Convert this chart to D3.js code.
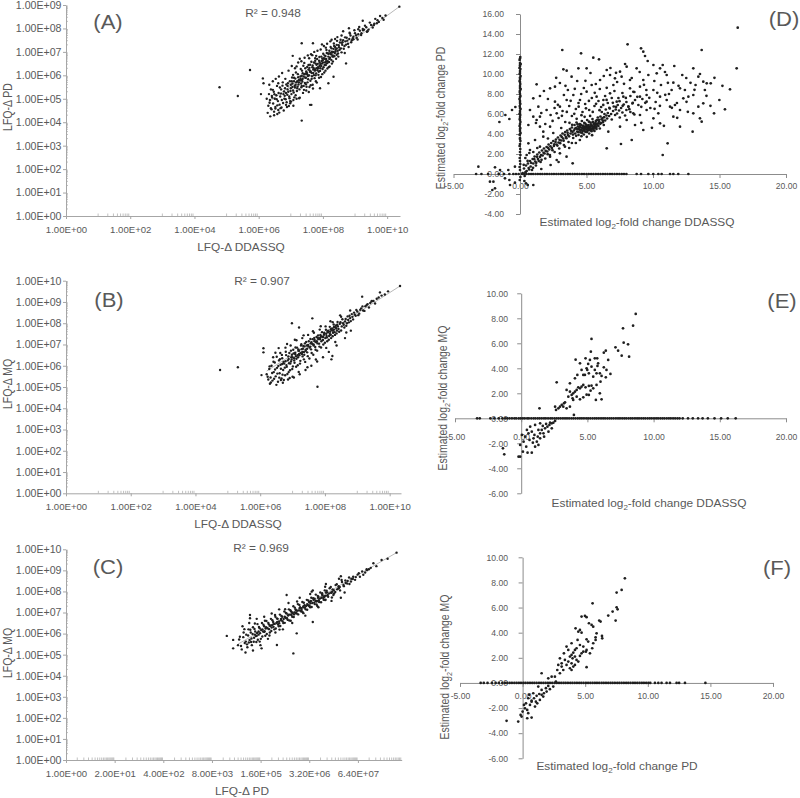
<!DOCTYPE html>
<html><head><meta charset="utf-8">
<script src="https://cdn.jsdelivr.net/npm/d3@7"></script>
<style>body{margin:0;background:#fff}svg{display:block}</style>
</head><body>
<svg id="c" width="800" height="798"></svg>
<script>
// ---------------- DATA ----------------
// Panels A-C: [log10 x, log10 y]
const aPoints = [
[4.78,5.49],[5.35,5.12],[5.73,6.23],[7.34,4.07],[10.38,8.93],[9.78,8.53],[9.24,8.33],[7.34,7.37],[7.69,7.37],[7.06,6.83],[6.13,5.87],[6.15,5.66],[6.07,5.2],[6.48,4.3],[6.38,4.6],[7.6,4.74],[7.64,4.74],[8.83,7.82],[8.59,7.39],
[8.72,6.51],[8.17,5.66],[8.33,5.94],[7.91,5.45],[7.34,5.55],[7.08,4.95],[6.98,4.81],[6.61,4.52],[6.85,4.74],[7.76,6.73],[7.55,6.44],[8.05,6.44],[8.33,6.8],[8.43,7.15],[8.95,7.54],[9.37,7.86],[9.58,8.14],[9.68,8.22],[9.89,8.37],[9.1,7.97],[9.25,7.92],
[6.30,4.70],[6.32,5.20],[6.35,4.95],[6.38,5.40],[6.40,4.55],[6.42,5.05],[6.45,4.80],[6.47,5.30],[6.50,5.00],[6.52,4.65],[6.55,5.15],[6.57,5.55],[6.60,4.90],[6.62,5.25],[6.65,4.75],[6.67,5.10],[6.70,5.40],[6.72,4.95],[6.75,5.70],[6.77,5.20],[6.80,5.00],[6.82,5.45],[6.85,5.25],[6.87,4.85],[6.90,5.55],[6.92,5.30],[6.95,5.10],[6.97,5.75],[7.00,5.45],[7.02,5.20],[7.05,5.65],[7.07,5.35],[7.10,5.90],[7.12,5.55],[7.15,5.15],[7.17,5.70],[7.20,5.45],[7.22,6.05],[7.25,5.80],[7.27,5.40],[7.30,5.95],[7.32,5.65],[7.35,6.20],[7.37,5.85],[7.40,5.55],[7.42,6.05],[7.45,6.30],[7.47,5.90],[7.50,6.10],[7.52,5.70],[7.55,6.25],[7.57,6.00],[7.60,6.45],[7.62,6.15],[7.65,5.85],[7.67,6.35],[7.70,6.10],[7.72,6.55],[7.75,6.25],[7.77,6.00],[7.80,6.45],[7.82,6.70],[7.85,6.35],[7.87,6.15],[7.90,6.55],[7.92,6.30],[7.95,6.80],[7.97,6.50],[8.00,6.65],[8.02,6.35],[8.05,6.85],[8.07,6.55],[8.10,6.70],[8.12,6.95],[8.15,6.60],[8.17,6.80],[8.20,7.05],[8.22,6.75],[8.25,6.90],[8.27,7.15],[8.30,6.85],[8.32,7.00],[8.35,7.25],[8.37,6.95],[8.40,7.10],[8.43,7.30],[8.46,7.05],[8.50,7.20],[8.53,7.40],[8.56,7.15],[8.60,7.30],[8.63,7.50],[8.67,7.25],[8.70,7.45],[8.74,7.60],[8.78,7.35],[8.82,7.55],[8.86,7.70],[8.90,7.50],[8.95,7.65],[9.00,7.80],[9.05,7.60],[9.10,7.75],[9.15,7.90],[9.20,7.80],[9.28,7.95],[9.35,8.05],[9.42,7.95],[9.50,8.15],[9.60,8.20],[9.70,8.35],[9.85,8.45],[9.95,8.55],
[6.25,5.00],[6.28,4.40],[6.33,5.60],[6.36,4.25],[6.44,5.75],[6.48,4.45],[6.53,5.85],[6.58,4.35],[6.63,5.95],[6.68,4.60],[6.73,6.10],[6.78,4.50],[6.83,5.85],[6.88,4.65],[6.93,6.20],[6.98,4.90],[7.03,6.40],[7.08,4.70],[7.13,6.30],[7.18,5.00],[7.23,6.55],[7.28,5.05],[7.33,6.60],[7.38,5.25],[7.43,6.75],[7.48,5.35],[7.53,6.85],[7.58,5.50],[7.63,6.90],[7.68,5.60],[7.73,7.00],[7.78,5.75],[7.83,7.05],[7.88,5.90],[7.93,7.10],[7.98,6.05],[8.03,7.25],[8.08,6.20],[8.13,7.35],[8.18,6.35],[8.23,7.45],[8.28,6.50],[8.38,7.55],[8.48,6.80],[8.58,7.70],[8.68,6.95],
[6.90,5.40],[7.00,5.60],[7.10,5.75],[7.20,5.75],[7.30,5.85],[7.40,5.95],[7.50,6.05],[7.60,6.15],[7.70,6.25],[7.80,6.30],[7.90,6.40],[8.00,6.55],[8.10,6.60],[8.20,6.70],[8.30,6.80],[7.05,5.50],[7.15,5.60],[7.25,5.70],[7.35,5.80],[7.45,5.90],[7.55,6.00],[7.65,6.10],[7.75,6.20],[7.85,6.30],[7.95,6.40]
];
const aPointsMore = [
[6.41,5.12],[6.58,4.72],[6.66,5.48],[6.71,4.63],[6.79,5.31],[6.84,4.98],[6.91,5.66],[6.96,5.02],[7.01,4.88],[7.04,5.91],[7.09,5.27],[7.13,5.48],[7.16,6.12],[7.19,5.33],[7.24,5.61],[7.26,5.02],[7.31,6.27],[7.33,5.49],[7.36,5.73],[7.39,6.41],[7.41,5.38],[7.44,5.67],[7.46,6.08],[7.49,5.51],[7.51,6.36],[7.54,5.83],[7.56,5.29],[7.59,6.21],[7.61,5.77],[7.64,6.58],[7.66,5.96],[7.69,5.44],[7.71,6.31],[7.74,5.88],[7.76,6.62],[7.79,6.08],[7.81,5.69],[7.84,6.49],[7.86,6.02],[7.89,6.78],[7.91,6.19],[7.94,5.93],[7.96,6.61],[7.99,6.27],[8.01,6.92],[8.04,6.12],[8.06,6.71],[8.09,6.44],[8.11,7.08],[8.14,6.29],[8.16,6.93],[8.19,6.57],[8.21,6.38],[8.24,7.21],[8.26,6.66],[8.29,6.97],[8.31,6.59],[8.34,7.36],[8.36,6.82],[8.39,7.03],[8.41,6.71],[8.44,7.47],[8.47,6.93],[8.49,7.28],[8.52,7.09],[8.55,7.52],[8.58,6.98],[8.61,7.41],[8.65,7.13],[8.69,7.62],[8.72,7.31],[8.76,7.48],[8.80,7.21],[8.84,7.78],[8.88,7.41],[8.93,7.58],[8.98,7.92],[9.03,7.71],[9.08,7.53],[9.13,8.06],[9.19,7.72],[9.24,7.98],[9.31,8.12],[9.39,7.88],[9.46,8.25],[9.55,8.04],[9.63,8.41],[9.74,8.28],
[6.52,4.58],[6.64,4.41],[6.76,4.82],[6.86,5.61],[6.99,5.33],[7.11,5.06],[7.21,5.52],[7.29,5.78],[7.37,6.09],[7.47,5.62],[7.53,5.97],[7.62,5.58],[7.72,6.01],[7.83,6.22],[7.92,6.48],[8.03,6.73],[8.13,6.52],[8.23,6.95],[8.33,7.13],[8.43,6.88],[6.44,5.38],[6.56,4.98],[6.69,5.22],[6.81,5.13],[6.94,4.69],[7.07,6.02],[7.18,6.38],[7.28,6.71],[7.42,6.53],[7.57,6.73],[7.67,6.86],[7.79,6.83],[7.97,7.32],[8.09,7.18],[8.27,7.52],[8.45,7.63],[8.63,7.88],[8.81,8.01],[6.34,4.83],[6.49,5.19],[6.61,5.66],[6.74,5.56],[6.89,5.17],[7.03,5.75],[7.14,5.86],[7.23,5.92],[7.34,5.98],[7.48,6.17],[7.58,6.32],[7.68,6.42],[7.77,6.51],[7.88,6.62],[7.98,6.72],[8.08,6.82],[8.18,6.92],[8.28,7.01],[8.38,7.21]
];
const bPoints = [
[4.76,5.80],[5.31,5.93],[10.32,9.75],[9.15,9.25],[9.70,9.45],[6.98,8.0],[7.61,8.23],[7.20,7.80],[7.77,5.01],[6.10,6.82],[6.10,6.63],[6.04,5.56],[8.80,7.65],[8.23,6.46],[8.20,6.30],[7.00,5.48],[6.64,5.33],[9.85,9.35],[9.45,9.05],
[6.20,5.60],[6.25,5.35],[6.28,5.85],[6.32,5.45],[6.35,6.00],[6.38,5.30],[6.42,5.70],[6.45,6.15],[6.48,5.50],[6.52,5.90],[6.55,5.25],[6.58,6.25],[6.60,5.65],[6.63,6.05],[6.66,5.40],[6.68,6.35],[6.71,5.80],[6.74,6.10],[6.77,5.55],[6.80,6.50],[6.82,5.95],[6.85,6.25],[6.88,5.70],[6.90,6.60],[6.93,6.10],[6.96,6.40],[6.99,5.85],[7.02,6.75],[7.05,6.25],[7.08,6.55],[7.11,5.95],[7.14,6.85],[7.17,6.40],[7.20,6.70],[7.23,6.10],[7.26,6.95],[7.29,6.55],[7.32,6.80],[7.35,6.30],[7.38,7.05],[7.41,6.70],[7.44,6.95],[7.47,6.45],[7.50,7.15],[7.53,6.85],[7.56,7.05],[7.59,6.60],[7.62,7.25],[7.65,6.95],[7.68,7.15],[7.71,6.75],[7.74,7.35],[7.77,7.05],[7.80,7.25],[7.83,6.90],[7.86,7.45],[7.89,7.15],[7.92,7.35],[7.95,7.00],[7.98,7.55],[8.01,7.30],[8.04,7.50],[8.07,7.15],[8.10,7.65],[8.13,7.40],[8.16,7.60],[8.19,7.30],[8.22,7.75],[8.25,7.55],[8.28,7.70],[8.31,7.45],[8.34,7.90],[8.37,7.65],[8.40,7.85],[8.44,7.60],[8.48,8.05],[8.52,7.85],[8.56,8.00],[8.60,7.80],[8.64,8.20],[8.68,8.00],[8.72,8.15],[8.76,8.35],[8.80,8.10],[8.85,8.30],[8.90,8.50],[8.95,8.35],[9.00,8.55],[9.06,8.45],[9.12,8.70],[9.18,8.60],[9.25,8.80],[9.32,8.90],[9.40,8.95],[9.50,9.05],[9.60,9.15],[9.75,9.30],[9.95,9.50],
[6.30,5.15],[6.40,6.40],[6.50,5.10],[6.62,6.60],[6.70,5.20],[6.78,6.85],[6.86,5.35],[6.94,6.95],[7.04,5.45],[7.12,7.20],[7.22,5.60],[7.30,7.30],[7.40,5.80],[7.48,7.45],[7.58,6.00],[7.66,7.55],[7.76,6.20],[7.84,7.70],[7.94,6.40],[8.02,7.85],[8.12,6.65],[8.24,8.05],[8.36,6.95],[8.50,8.30],[8.62,7.30],[8.78,8.60],
[6.95,6.20],[7.05,6.35],[7.15,6.50],[7.25,6.60],[7.35,6.65],[7.45,6.80],[7.55,6.90],[7.65,7.00],[7.75,7.15],[7.85,7.25],[7.95,7.35],[8.05,7.40],[8.15,7.50],[8.25,7.65],[8.35,7.75],[7.00,6.40],[7.10,6.45],[7.20,6.55],[7.30,6.65],[7.40,6.75]
];
const bPointsMore = [
[6.23,5.48],[6.29,5.97],[6.33,5.21],[6.37,5.66],[6.41,6.19],[6.43,5.39],[6.46,5.82],[6.51,6.42],[6.53,5.63],[6.56,5.99],[6.59,5.44],[6.61,6.31],[6.64,5.86],[6.67,6.51],[6.69,5.58],[6.72,6.18],[6.76,5.91],[6.79,6.66],[6.81,6.03],[6.84,5.61],[6.87,6.44],[6.89,6.12],[6.92,5.79],[6.95,6.71],[6.97,6.29],[7.01,5.97],[7.03,6.58],[7.06,6.14],[7.09,6.86],[7.12,6.33],[7.16,6.02],[7.18,6.77],[7.21,6.49],[7.24,6.23],[7.27,7.01],[7.31,6.44],[7.33,6.93],[7.36,6.52],[7.39,6.18],[7.42,7.12],[7.45,6.63],[7.49,6.91],[7.52,6.34],[7.55,7.26],[7.57,6.77],[7.61,7.02],[7.64,6.52],[7.67,7.31],[7.70,6.88],[7.73,7.11],[7.76,6.71],[7.79,7.43],[7.82,7.04],[7.85,7.31],[7.88,6.86],[7.91,7.58],[7.94,7.21],[7.97,7.46],[8.00,7.08],[8.03,7.69],[8.06,7.33],[8.09,7.57],[8.12,7.22],[8.15,7.83],[8.18,7.46],[8.21,7.67],[8.24,7.39],[8.27,7.94],[8.30,7.58],[8.33,7.81],[8.36,7.52],[8.39,8.06],[8.42,7.73],[8.46,7.97],[8.50,7.66],[8.54,8.19],[8.58,7.93],[8.62,8.08],[8.66,7.88],[8.70,8.32],[8.74,8.04],[8.78,8.24],[8.83,8.43],[8.87,8.18],[8.92,8.41],[8.97,8.62],[9.03,8.38],[9.09,8.63],[9.16,8.79],[9.22,8.58],[9.29,8.86],[9.36,8.74],[9.44,9.02],[9.55,8.93],[9.66,9.21],
[6.47,6.61],[6.57,6.83],[6.73,5.33],[6.83,7.02],[6.91,5.42],[7.07,7.22],[7.19,5.71],[7.34,7.43],[7.46,5.93],[7.63,7.62],[7.72,6.29],[7.87,7.86],[8.04,6.84],[8.17,8.09],[8.32,7.12],[8.47,8.37],[8.66,7.56],[6.98,6.52],[7.08,6.61],[7.18,6.71],[7.28,6.78],[7.37,6.91],[7.48,6.98],[7.58,7.11],[7.68,7.21],[7.78,7.32],[7.88,7.39],[7.98,7.51],[8.08,7.61],[8.18,7.72],[8.28,7.82],[8.38,7.93],[6.88,6.32],[6.78,6.21],[6.68,6.08]
];
const cPoints = [
[4.30,5.89],[6.08,5.06],[8.84,9.84],[8.44,9.49],[8.22,9.34],[8.04,9.05],[4.92,6.73],[4.92,6.88],[4.47,5.30],[4.47,5.70],[5.90,7.83],[6.57,7.99],[7.15,7.83],[6.17,6.01],[5.64,5.46],[5.23,5.30],[6.93,7.59],[7.35,7.70],[6.60,6.55],
[4.60,5.45],[4.65,5.85],[4.70,5.25],[4.75,6.05],[4.78,5.55],[4.82,5.95],[4.85,5.35],[4.88,6.20],[4.91,5.70],[4.94,6.05],[4.97,5.45],[5.00,6.30],[5.03,5.80],[5.06,6.10],[5.09,5.60],[5.12,6.45],[5.15,5.95],[5.18,6.25],[5.21,5.75],[5.24,6.50],[5.27,6.10],[5.30,6.35],[5.33,5.90],[5.36,6.60],[5.39,6.25],[5.42,6.45],[5.45,6.05],[5.48,6.70],[5.51,6.40],[5.54,6.55],[5.57,6.20],[5.60,6.80],[5.63,6.50],[5.66,6.70],[5.69,6.35],[5.72,6.90],[5.75,6.65],[5.78,6.80],[5.81,6.50],[5.84,7.05],[5.87,6.75],[5.90,6.95],[5.93,6.65],[5.96,7.15],[5.99,6.90],[6.02,7.05],[6.05,6.80],[6.08,7.30],[6.11,7.00],[6.14,7.15],[6.17,6.95],[6.20,7.40],[6.23,7.10],[6.26,7.25],[6.29,7.05],[6.32,7.50],[6.35,7.25],[6.38,7.35],[6.41,7.15],[6.44,7.60],[6.47,7.35],[6.50,7.50],[6.53,7.25],[6.56,7.70],[6.59,7.45],[6.62,7.60],[6.65,7.40],[6.68,7.85],[6.71,7.55],[6.74,7.70],[6.77,7.50],[6.80,7.95],[6.83,7.70],[6.86,7.80],[6.89,7.60],[6.92,8.05],[6.95,7.80],[6.98,7.95],[7.01,7.75],[7.05,8.15],[7.09,7.95],[7.13,8.10],[7.17,7.90],[7.21,8.30],[7.25,8.10],[7.29,8.25],[7.33,8.05],[7.38,8.45],[7.43,8.25],[7.48,8.40],[7.53,8.50],[7.58,8.35],[7.63,8.60],[7.68,8.70],[7.73,8.55],[7.80,8.80],[7.86,8.70],[7.92,8.95],[8.00,8.90],[8.10,9.05],[8.30,9.20],[8.60,9.55],
[4.72,6.35],[4.80,5.10],[4.90,6.50],[5.00,5.20],[5.10,6.70],[5.20,5.45],[5.30,6.80],[5.40,5.75],[5.50,6.95],[5.60,6.05],[5.70,7.15],[5.80,6.20],[5.95,7.45],[6.05,6.50],[6.25,7.70],[6.40,6.85],[6.60,8.05],[6.75,7.25],[6.95,8.35],[7.10,7.55],[7.30,8.60],[7.45,7.95],
[5.05,5.95],[5.15,6.10],[5.25,6.20],[5.35,6.30],[5.45,6.40],[5.55,6.45],[5.65,6.55],[5.75,6.70],[5.85,6.80],[5.95,6.90],[6.05,7.00],[6.15,7.10],[6.25,7.20],[6.35,7.30],[6.45,7.40],[6.55,7.55],[6.65,7.65],[6.75,7.75],[6.85,7.85],[6.95,7.95]
];
const cPointsMore = [
[4.63,5.72],[4.68,5.41],[4.74,5.83],[4.77,6.21],[4.81,5.62],[4.84,5.49],[4.87,5.91],[4.89,5.58],[4.93,6.18],[4.96,5.77],[4.99,5.98],[5.02,5.61],[5.04,6.22],[5.08,5.88],[5.11,6.03],[5.13,5.71],[5.16,6.31],[5.19,6.02],[5.22,6.17],[5.25,5.86],[5.28,6.42],[5.31,6.11],[5.34,6.24],[5.37,5.98],[5.41,6.51],[5.43,6.21],[5.46,6.36],[5.49,6.12],[5.52,6.63],[5.55,6.32],[5.58,6.46],[5.61,6.24],[5.64,6.72],[5.67,6.43],[5.70,6.58],[5.73,6.36],[5.76,6.84],[5.79,6.59],[5.82,6.69],[5.85,6.51],[5.88,6.98],[5.91,6.73],[5.94,6.86],[5.97,6.62],[6.00,7.11],[6.03,6.88],[6.06,6.97],[6.09,6.79],[6.12,7.23],[6.15,6.98],[6.18,7.08],[6.21,6.91],[6.24,7.36],[6.27,7.09],[6.30,7.21],[6.33,7.02],[6.36,7.46],[6.39,7.22],[6.42,7.31],[6.45,7.13],[6.48,7.57],[6.51,7.33],[6.54,7.44],[6.57,7.26],[6.61,7.68],[6.64,7.47],[6.67,7.55],[6.70,7.38],[6.73,7.79],[6.76,7.58],[6.79,7.66],[6.82,7.49],[6.85,7.92],[6.88,7.69],[6.91,7.77],[6.94,7.61],[6.97,8.03],[7.00,7.83],[7.04,7.91],[7.08,8.21],[7.12,7.99],[7.16,8.06],[7.20,7.97],[7.24,8.34],[7.28,8.14],[7.32,8.21],[7.37,8.54],[7.42,8.31],[7.47,8.52],[7.52,8.38],[7.57,8.66],[7.62,8.47],[7.67,8.59],[7.75,8.68],[7.83,8.86],[7.95,8.79],[8.05,9.01],[8.15,9.12],
[4.95,5.60],[5.05,6.48],[5.18,5.62],[5.32,6.61],[5.44,5.91],[5.59,6.88],[5.71,6.19],[5.86,7.16],[6.01,6.61],[6.18,7.52],[6.35,6.97],[6.53,7.88],[6.72,7.31],[6.93,8.22],[7.11,7.71],[7.35,8.72],[5.10,5.90],[5.30,6.08],[5.50,6.29],[5.70,6.49],[5.90,6.72],[6.10,6.91],[6.30,7.12],[6.50,7.31],[6.70,7.52],[6.90,7.73],[7.10,7.93],[7.30,8.16]
];
// trend lines [log10 x, log10 y]
const aTrend = [[6.3,4.85],[10.38,8.93]];
const bTrend = [[6.2,5.75],[10.32,9.75]];
const cTrend = [[4.6,5.5],[8.84,9.84]];

// Panel D: estimated log2 fold change DDASSQ (x) vs PD (y)
const dColumn = [[0.02,11.7],[-0.03,11.4],[0.05,11.0],[0.0,10.8],[-0.04,10.6],[0.03,10.5],[0.0,10.3],[-0.02,10.0],[0.04,9.8],[0.0,9.5],[-0.03,9.3],[0.02,9.0],[0.0,8.8],[0.05,8.5],[-0.02,8.2],[0.0,8.0],[0.03,7.8],[-0.04,7.5],[0.0,7.3],[0.02,7.0],[-0.02,6.8],[0.04,6.5],[0.0,6.3],[-0.03,6.0],[0.02,5.9],[0.0,5.7],[-0.02,5.5],[0.03,5.2],[0.0,5.0],[-0.03,4.8],[0.02,4.6],[0.0,4.3],[0.04,4.1],[-0.02,3.9],[0.0,3.6],[0.03,3.3],[0.0,3.0],[-0.03,2.8],[0.02,2.5],[0.0,2.2],[0.03,1.9],[-0.02,1.6],[0.0,1.3],[0.02,1.0],[-0.03,0.7],[0.0,0.4],[0.03,-0.3],[-0.02,-0.6],[0.0,11.1],[0.0,10.1],[0.0,9.2],[0.0,8.6],[0.0,7.7],[0.0,7.1],[0.0,6.6],[0.0,6.1],[0.0,5.4],[0.0,4.5],[0.0,4.0],[0.0,3.5],[0.0,11.55],[0.0,10.9],[0.0,9.65],[0.0,8.35]];
const dZeroRow = [-3.3,-2.9,-2.4,-1.6,-1.2,-0.8,-0.5,-0.3,-0.1,0.15,0.32,0.48,0.66,0.83,0.99,1.17,1.34,1.52,1.68,1.86,2.03,2.21,2.38,2.55,2.73,2.90,3.08,3.25,3.43,3.60,3.77,3.95,4.12,4.30,4.47,4.65,4.82,5.00,5.17,5.35,5.52,5.70,5.88,6.05,6.23,6.41,6.58,6.76,6.93,7.11,7.29,7.47,7.65,7.82,8.00,8.77,9.10,9.65,10.02,10.40,10.65,11.28,11.53,11.90,12.66];
const dCloud = [
[0.20,0.10],[0.30,0.55],[0.35,-0.20],[0.45,0.85],[0.50,0.30],[0.60,1.05],[0.65,0.60],[0.75,1.30],[0.80,0.75],[0.90,0.40],[0.95,1.50],[1.00,1.05],[1.10,1.75],[1.15,1.25],[1.20,0.85],[1.30,1.95],[1.35,1.50],[1.45,2.15],[1.50,1.70],[1.55,1.20],[1.65,2.35],[1.70,1.85],[1.80,2.55],[1.85,2.05],[1.90,1.55],[2.00,2.70],[2.05,2.25],[2.15,2.95],[2.20,2.45],[2.25,1.90],[2.35,3.10],[2.40,2.60],[2.50,3.30],[2.55,2.80],[2.60,2.20],[2.70,3.45],[2.75,2.95],[2.85,3.65],[2.90,3.15],[2.95,2.55],[3.05,3.85],[3.10,3.35],[3.20,4.05],[3.25,3.55],[3.30,2.90],[3.40,4.20],[3.45,3.70],[3.55,4.35],[3.60,3.90],[3.65,3.20],[3.75,4.50],[3.80,4.05],[3.90,4.65],[3.95,4.20],[4.00,3.60],
[4.05,4.35],[4.10,4.90],[4.15,4.05],[4.20,4.60],[4.25,5.15],[4.30,4.25],[4.35,4.75],[4.40,3.90],[4.45,4.45],[4.50,5.00],[4.55,4.15],[4.60,4.65],[4.65,5.30],[4.70,4.30],[4.75,4.85],[4.80,3.95],[4.85,4.50],[4.90,5.05],[4.95,4.20],[5.00,4.70],[5.05,5.40],[5.10,4.35],[5.15,4.90],[5.20,4.05],[5.25,4.55],[5.30,5.15],[5.35,4.40],[5.40,4.85],[5.45,5.50],[5.50,4.60],[5.55,5.05],[5.60,4.30],[5.65,4.75],[5.70,5.30],[5.75,4.50],[5.80,5.00],[5.85,5.65],[5.90,4.80],[5.95,5.25],[6.00,4.55],[6.10,5.10],[6.20,5.60],[6.30,4.90],[6.40,5.35],[6.50,5.85],[4.40,4.55],[4.60,4.40],[4.80,4.60],[5.00,4.45],[5.20,4.70],[5.40,4.50],[5.60,4.85],[4.50,4.80],[4.70,4.55],[4.90,4.75],[5.10,4.60],[5.30,4.80],[5.50,4.70],[4.30,4.50],[5.70,4.95],[5.90,5.10],
[6.05,5.75],[6.15,6.20],[6.25,5.35],[6.35,6.00],[6.45,6.45],[6.55,5.55],[6.60,6.10],[6.70,5.80],[6.75,6.55],[6.85,6.00],[6.90,5.45],[7.00,6.30],[7.05,6.75],[7.15,5.90],[7.20,6.45],[7.30,6.05],[7.35,6.90],[7.45,6.35],[7.50,5.65],[7.60,6.60],[7.70,6.15],[7.80,6.95],[7.90,5.85],[8.00,6.40],[8.15,6.75],[8.30,6.20],[8.45,7.05],[8.60,5.95],
[3.18,12.4],[4.59,12.07],[5.51,11.63],[5.94,11.47],[6.52,10.4],[6.77,9.9],[7.52,10.23],[7.14,9.57],[8.09,12.97],[9.10,12.57],[9.27,12.23],[9.40,11.8],[10.03,10.9],[10.53,10.57],[10.73,10.9],[11.03,9.9],[11.53,9.13],[11.4,8.4],[12.03,8.57],[12.4,8.4],[13.03,10.57],[13.41,9.73],[13.53,10.0],[13.66,12.4],[13.78,9.23],[14.04,9.07],[14.34,9.07],[13.9,8.4],[13.03,7.9],[12.66,7.73],[12.28,7.57],[11.65,6.9],[11.28,6.73],[12.03,6.4],[13.03,6.07],[13.41,6.73],[13.78,7.07],[13.53,5.57],[13.66,5.23],[12.98,4.23],[14.59,6.07],[14.99,7.4],[15.41,6.47],[15.79,8.47],[16.29,10.57],[16.37,14.63],[10.73,1.9],[11.1,3.07],[10.03,5.57],[10.4,6.07],[9.52,7.23],[9.02,7.73],[8.65,7.4],[8.27,8.57],[9.02,8.73],[10.03,8.4],[9.65,9.9],[10.28,10.07],[8.77,10.57],[8.02,10.73],[7.64,9.73],[7.02,8.9],[6.02,9.4],[5.39,8.9],[5.01,10.57],[4.39,10.57],[3.88,9.73],[3.51,10.33],[3.26,10.47],[2.63,8.73],[2.26,8.57],[1.25,8.97],[1.0,7.57],[1.5,7.8],[1.38,6.73],[0.75,6.4],[1.0,5.73],[0.63,4.9],[1.5,5.73],[2.0,6.4],[2.63,7.23],[3.0,6.73],[3.51,7.4],[4.01,7.9],[4.51,7.4],[5.01,8.23],[5.76,7.73],[6.27,7.4],[6.77,8.07],[7.27,7.23],[7.77,7.73],[8.15,6.73],[8.52,6.07],[9.02,5.9],[9.52,6.4],[8.02,5.4],[7.52,4.73],[6.52,2.57],[7.59,3.0],[8.4,3.4],[3.96,1.07],[11.53,5.73],[12.03,4.73],[10.53,5.07],[9.27,4.4],[8.65,4.9],[6.64,4.23],[2.76,6.07],[2.26,4.73],[1.75,4.23],[1.5,4.73],[1.25,5.4],[9.52,7.9],[10.53,7.73],[11.03,7.4],[8.27,9.4],[9.27,9.4],
[1.2,5.1],[1.6,6.1],[1.9,5.0],[2.3,5.9],[2.6,6.6],[2.9,5.6],[3.2,6.3],[3.4,5.2],[3.7,6.8],[3.9,5.8],[4.2,6.5],[4.4,7.1],[4.7,6.2],[4.9,7.0],[5.2,6.4],[5.4,7.6],[5.6,6.8],[5.9,7.3],[6.1,6.7],[6.4,7.8],[6.6,7.1],[6.9,7.6],[7.1,8.3],[7.4,7.6],[7.7,8.1],[8.0,7.2],[8.3,7.8],[8.6,8.2],[8.9,6.9],[9.2,7.5],[9.5,8.4],[9.8,6.6],[10.2,7.2],[10.6,8.9],[11.2,8.0],[11.8,7.1],[12.5,9.6],[13.2,8.9],[3.0,9.1],[3.6,8.4],[4.3,9.3],[4.8,8.6],[5.3,10.1],[5.7,9.0],[6.3,9.8],[6.8,10.6],[7.3,9.2],[7.9,11.0],[8.4,9.6],[9.0,10.2],[9.6,11.3],[10.1,9.3],[10.9,10.2],[11.6,10.8],[12.2,9.9],[2.1,7.5],[1.8,8.3],[3.3,7.9],[4.6,8.0],[6.0,8.5],
[-3.13,0.73],[-2.0,-0.77],[-2.08,-1.6],[-1.13,-0.43],[-0.8,-0.6],[-0.38,-0.87],[0.33,-0.7],[0.58,-1.1],[1.0,-1.1],[-0.88,0.4],[-0.38,0.73],[-1.5,0.4],[-1.88,0.67],[-2.26,-0.77],[-0.75,-1.1],[0.45,-0.93],[-1.88,-1.43],
[-1.1,5.9],[-0.6,6.4],[-0.35,6.7],[-1.55,5.2],[-0.8,5.5]
];
const dCloudMore = [
[0.28,0.92],[0.41,0.18],[0.57,1.31],[0.69,0.45],[0.84,1.12],[0.98,0.62],[1.07,1.48],[1.22,1.12],[1.28,1.72],[1.41,1.31],[1.58,1.88],[1.62,1.42],[1.77,2.12],[1.93,2.31],[2.08,1.98],[2.12,2.61],[2.29,2.77],[2.44,2.38],[2.58,2.97],[2.67,3.21],[2.81,2.84],[2.97,3.42],[3.02,3.08],[3.14,3.71],[3.28,3.33],[3.36,3.92],[3.49,3.58],[3.58,4.12],[3.69,3.77],[3.84,4.32],[3.98,3.94],
[4.12,4.52],[4.22,3.82],[4.33,4.98],[4.38,4.18],[4.47,4.62],[4.53,4.33],[4.58,4.91],[4.67,4.12],[4.73,4.71],[4.78,4.38],[4.83,5.12],[4.88,4.27],[4.93,4.58],[4.98,4.92],[5.03,4.21],[5.08,4.82],[5.13,4.49],[5.18,5.23],[5.23,4.38],[5.28,4.62],[5.33,4.97],[5.38,4.28],[5.43,4.72],[5.48,5.21],[5.53,4.42],[5.58,4.98],[5.63,4.62],[5.68,5.12],[5.73,4.68],[5.78,5.38],[5.83,4.88],[5.93,5.42],[6.03,5.02],[6.13,5.47],[6.23,5.18],[6.33,5.68],[4.62,3.78],[5.02,3.72],[5.42,3.88],[4.26,5.52],[4.86,5.72],[5.27,5.81],[3.92,4.92],[3.72,5.12],
[2.45,5.31],[2.85,6.92],[3.15,5.82],[3.52,6.21],[3.81,7.32],[4.08,6.02],[4.41,6.73],[4.62,5.88],[4.96,6.57],[5.18,7.31],[5.47,6.21],[5.72,7.02],[5.98,6.38],[6.26,6.91],[6.51,7.41],[6.72,6.62],[6.98,7.12],[7.22,6.71],[7.48,7.28],[7.72,6.82],[7.96,7.61],[8.22,6.48],[8.48,7.12],[8.82,7.72],[9.12,6.72],[9.42,7.12],[9.72,7.62],[10.12,6.52],[10.52,6.82],[10.92,7.92],[11.42,6.62],[12.52,7.22],[13.12,8.42],[14.02,7.82],[3.42,8.82],[2.72,9.62],[4.12,8.52],[4.92,9.32],[5.62,8.12],[6.52,8.62],[7.22,10.12],[7.82,9.02],[8.52,8.22],[9.32,8.92],[10.32,8.12],[11.12,9.12],[11.92,8.82],[12.82,9.12],[14.62,9.62],[15.22,8.82],[14.32,6.82],[12.62,6.22],[11.82,5.62],[10.82,4.82],[9.92,4.62],[9.12,5.12],
[0.4,1.6],[0.7,2.1],[0.63,3.07],[1.13,3.4],[1.5,2.73],[1.75,3.73],[0.75,2.4],[2.26,1.73],[2.76,1.4],[3.0,2.07],[3.5,1.73],[3.38,2.73],[2.1,3.55],[2.5,4.1],[1.3,2.6],[3.1,4.6],[2.9,1.2],[1.6,0.5],[2.3,0.9],[3.7,2.6],[4.2,3.1],[4.5,3.4],[3.9,3.1],[1.0,2.2],[0.5,1.9]
];

// Panel E: DDASSQ (x) vs MQ (y)
const eZeroRow = [-3.33,-3.13,-2.33,-2.03,-1.70,-1.42,-1.21,-1.05,-0.88,-0.70,-0.52,-0.38,-0.19,-0.04,0.12,0.27,0.45,0.58,0.76,0.93,1.07,1.24,1.39,1.55,1.72,1.86,2.03,2.20,2.34,2.51,2.67,2.82,2.98,3.15,3.31,3.46,3.62,3.79,3.94,4.10,4.27,4.43,4.58,4.74,4.91,5.06,5.22,5.39,5.55,5.70,5.86,6.03,6.19,6.34,6.51,6.67,6.82,6.98,7.15,7.31,7.46,7.63,7.79,7.94,8.11,8.27,8.42,8.59,8.75,8.90,9.07,9.23,9.38,9.55,9.71,9.86,10.03,10.19,10.34,10.51,10.67,10.82,10.99,11.15,11.30,11.47,11.63,11.80,11.96,12.20,12.60,12.96,13.36,13.70,14.10,14.60,15.10,15.60,16.20];
const ePoints = [
[8.65,8.35],[7.69,7.2],[8.45,7.41],[7.74,6.05],[8.07,5.92],[7.59,5.01],[8.15,4.93],[7.12,5.68],[7.32,5.41],[5.31,6.35],[6.39,5.41],[6.24,5.25],[5.26,5.33],[4.86,4.8],[5.56,4.8],[5.74,4.8],[4.11,4.69],[6.57,4.67],[4.94,4.0],[4.99,3.87],[5.06,4.35],[5.11,3.6],[5.56,3.87],[5.76,4.19],[5.94,3.6],[6.07,3.39],[6.24,4.08],[6.74,3.55],[5.99,2.93],[5.69,2.67],[5.94,2.0],[6.07,1.52],[5.64,1.47],[5.11,2.59],[4.86,2.48],[4.69,2.67],[4.56,2.53],[4.44,2.4],[4.31,2.48],[4.19,2.27],[4.06,2.13],[3.93,2.0],[3.81,1.87],[3.68,2.13],[3.56,1.73],[3.88,1.6],[4.19,1.73],[4.44,1.52],[4.69,1.68],[4.94,1.89],[5.11,1.87],[5.24,2.21],[5.31,2.61],[5.44,2.4],[4.81,3.47],[2.68,2.88],[2.56,0.93],[2.63,0.67],[2.81,0.8],[2.93,0.93],[3.06,1.07],[3.23,1.2],[3.31,1.28],[3.18,0.93],[3.43,0.8],[3.68,0.93],[3.93,1.47],[3.98,0.27],[1.38,0.8],[3.43,2.27],[3.68,2.8],[4.06,3.2],[4.24,3.47],[4.56,3.87],[4.69,3.47],[5.44,3.33],[5.69,3.6],[5.31,4.13],[6.44,3.87],[6.39,3.28],[5.81,4.4],[5.19,4.67],[4.44,4.4],
[-1.38,-2.4],[-1.28,-2.88],[-0.2,-3.07],[-0.08,-3.07],[0.18,-1.87],[0.13,-2.67],[0.38,-2.27],[0.48,-2.75],[0.8,-2.75],[1.05,-2.27],[0.93,-1.6],[1.0,-1.33],[1.18,-1.87],[1.25,-1.47],[1.43,-1.2],[1.55,-0.93],[1.68,-1.2],[1.8,-0.8],[1.98,-0.67],[2.13,-0.53],[2.31,-0.4],[2.43,-0.35],[2.56,-0.21],[1.3,-2.13],[0.55,-1.2],[0.68,-0.67],[1.43,-0.4],[1.88,-0.45],[2.18,-0.35],[0.3,-1.47],[0.63,-1.73],[0.88,-1.95],[1.3,-0.93],[1.63,-0.61],[0.43,-0.93],[1.05,-0.53],[0.8,-1.07],[0.05,-1.33],[-0.08,-2.13],[1.43,-1.6],[1.73,-1.47],[2.06,-1.07],[2.31,-0.8]
];

// Panel F: PD (x) vs MQ (y)
const fZeroRow = [-3.35,-3.10,-2.80,-2.45,-2.15,-1.90,-1.62,-1.41,-1.22,-1.03,-0.85,-0.66,-0.48,-0.30,-0.13,0.06,0.23,0.41,0.59,0.77,0.94,1.12,1.31,1.48,1.66,1.84,2.02,2.19,2.37,2.56,2.73,2.91,3.09,3.27,3.44,3.62,3.81,3.98,4.16,4.34,4.52,4.69,4.87,5.06,5.23,5.41,5.59,5.77,5.94,6.12,6.31,6.48,6.66,6.84,7.02,7.19,7.37,7.56,7.73,7.91,8.09,8.27,8.44,8.62,8.81,8.98,9.16,9.34,9.52,9.69,9.87,10.05,10.20,10.57,10.84,11.10,11.50,11.77,12.30,12.50,12.97,14.60];
const fPoints = [
[8.17,8.33],[7.91,7.4],[7.51,7.19],[7.51,6.02],[7.59,5.86],[7.19,5.68],[6.84,5.36],[7.43,4.96],[5.59,6.34],[6.12,4.96],[6.23,4.88],[6.34,3.74],[6.36,3.55],[5.83,3.63],[5.83,3.42],[4.98,5.33],[5.11,5.23],[4.71,5.28],[5.51,4.62],[5.64,4.48],[5.3,4.75],[4.23,4.35],[4.45,4.08],[4.58,4.22],[4.71,4.0],[5.11,3.47],[5.24,3.29],[5.56,2.76],[5.11,2.63],[5.06,2.49],[5.11,1.25],[4.31,2.76],[4.18,2.63],[4.05,2.41],[3.91,2.23],[3.78,2.1],[3.99,1.96],[4.18,2.1],[4.31,1.83],[4.45,1.7],[4.58,2.15],[4.71,2.36],[4.85,2.49],[3.65,1.7],[3.91,1.56],[4.18,1.43],[4.05,1.3],[3.78,1.17],[3.91,1.03],[3.51,1.43],[3.65,2.63],[2.85,1.43],[3.12,1.56],[3.25,1.03],[2.98,0.77],[2.58,0.5],[2.66,0.11],[1.52,0.77],[4.58,3.02],[4.85,2.89],[5.38,2.36],[5.64,3.16],[5.91,3.95],[4.39,3.42],[3.91,3.16],[3.51,2.89],[3.3,2.36],[3.38,1.83],[2.98,1.96],[3.12,1.3],[2.77,1.03],[2.32,0.5],[2.05,0.37],
[-1.28,-3.02],[-0.35,-3.08],[-0.08,-2.68],[0.37,-2.15],[0.45,-2.41],[0.59,-1.75],[0.72,-1.41],[0.91,-1.22],[1.12,-1.03],[1.33,-0.88],[1.52,-0.56],[0.99,-1.88],[1.17,-1.62],[1.38,-1.35],[1.65,-1.09],[1.7,-0.82],[1.92,-0.69],[2.18,-0.5],[2.45,-0.29],[0.37,-2.81],[0.72,-2.76],[0.0,-2.28],[0.19,-2.02],[0.27,-1.62],[0.45,-1.22],[0.72,-1.49],[-0.16,-2.55],[0.11,-1.75],[0.85,-0.82],[1.25,-0.29],[0.53,-0.95],[1.06,-1.49],[1.52,-0.95],[1.86,-0.42],[2.05,-0.24]
];

// Ticks and texts
const logXTicksAB = [1, 1e2, 1e4, 1e6, 1e8, 1e10];
const logYTicksA = [1, 1e1, 1e2, 1e3, 1e4, 1e5, 1e6, 1e7, 1e8, 1e9];
const logYTicksBC = [1, 1e1, 1e2, 1e3, 1e4, 1e5, 1e6, 1e7, 1e8, 1e9, 1e10];
const logXTicksC = [1, 20, 400, 8000, 160000, 3.2e6, 6.4e7];
const linXTicks = [-5, 0, 5, 10, 15, 20];
const linYTicksD = [-4, -2, 0, 2, 4, 6, 8, 10, 12, 14, 16];
const linYTicksEF = [-6, -4, -2, 0, 2, 4, 6, 8, 10];
const panelLabels = ["(A)", "(B)", "(C)", "(D)", "(E)", "(F)"];
const r2Labels = ["R² = 0.948", "R² = 0.907", "R² = 0.969"];
const logXTitles = ["LFQ-Δ DDASSQ", "LFQ-Δ DDASSQ", "LFQ-Δ PD"];
const logYTitles = ["LFQ-Δ PD", "LFQ-Δ MQ", "LFQ-Δ MQ"];
const linXTitleEnds = ["DDASSQ", "DDASSQ", "PD"];
const linYTitleEnds = ["PD", "MQ", "MQ"];

// ---------------- DRAWING ----------------
const svg = d3.select('#c');
svg.append('rect').attr('width', 800).attr('height', 798).attr('fill', '#fff');
const SX = 1.13;
const FONT = '"Liberation Sans", Arial, Helvetica, sans-serif';
const TXT = '#595959';
const AXL = '#a6a6a6';
const AXD = '#8c8c8c';
const PT = '#1f1f1f';

function fmtE(v) {
  const parts = v.toExponential(2).split('e');
  const n = +parts[1];
  return parts[0] + 'E' + (n < 0 ? '-' : '+') + String(Math.abs(n)).padStart(2, '0');
}
function txt(g, x, y, s, size, anchor, rot) {
  return g.append('text')
    .attr('transform', rot ? `translate(${x},${y}) rotate(-90) scale(1,${SX})` : `translate(${x},${y}) scale(${SX},1)`)
    .attr('font-family', FONT).attr('font-size', size).attr('fill', TXT)
    .attr('text-anchor', anchor || 'middle').text(s);
}
function log2Title(g, x, y, end, size, rot) {
  const t = g.append('text')
    .attr('transform', rot ? `translate(${x},${y}) rotate(-90) scale(1,${SX})` : `translate(${x},${y}) scale(${SX},1)`)
    .attr('font-family', FONT).attr('font-size', size).attr('fill', TXT).attr('text-anchor', 'middle');
  t.append('tspan').text('Estimated log');
  t.append('tspan').attr('font-size', size * 0.68).attr('dy', 3).text('2');
  t.append('tspan').attr('dy', -3).text('-fold change ' + end);
}
function styleAxis(sel, color, fs) {
  sel.attr('font-family', FONT).attr('font-size', fs);
  sel.selectAll('path,line').attr('stroke', color).attr('stroke-width', 1);
  sel.selectAll('text').attr('fill', TXT);
}

const logCfg = [
  {pts: aPoints.concat(aPointsMore), trend: aTrend, xBase: 10, xMax: Math.pow(10, 10.4), xR: [66, 400], yMax: 1e9, yR: [216, 5], xT: logXTicksAB, yT: logYTicksA,
   lab: [108, 29], r2: [273, 17], xt: [241, 251], yt: [12, 107]},
  {pts: bPoints.concat(bPointsMore), trend: bTrend, xBase: 10, xMax: Math.pow(10, 10.35), xR: [66, 401], yMax: 1e10, yR: [493.3, 280.7], xT: logXTicksAB, yT: logYTicksBC,
   lab: [109, 307], r2: [262, 285], xt: [238, 528], yt: [12, 384]},
  {pts: cPoints.concat(cPointsMore), trend: cTrend, xBase: 20, xMax: Math.pow(20, 6.9), xR: [66, 401.7], yMax: 1e10, yR: [760, 549.3], xT: logXTicksC, yT: logYTicksBC,
   lab: [108, 574], r2: [261, 552], xt: [242, 795], yt: [12, 653]}
];

logCfg.forEach((p, i) => {
  const g = svg.append('g');
  const x = d3.scaleLog().base(p.xBase).domain([1, p.xMax]).range(p.xR);
  const y = d3.scaleLog().base(10).domain([1, p.yMax]).range(p.yR);
  const y0 = p.yR[0], x0 = p.xR[0];
  const minorX = [];
  if (p.xBase === 10) {
    for (let e = 0; e <= 10; e += 2) for (let k = 1; k <= 9; k++) minorX.push(k * Math.pow(10, e + 1));
  } else {
    for (let e = 0; e <= 6; e++) for (let k = 2; k <= 19; k++) minorX.push(k * Math.pow(20, e));
  }
  g.selectAll('.mx').data(minorX.filter(v => v <= p.xMax)).enter().append('line')
    .attr('x1', d => x(d)).attr('x2', d => x(d)).attr('y1', y0 - 2.5).attr('y2', y0)
    .attr('stroke', AXL).attr('stroke-width', 0.7);
  const minorY = [];
  for (let e = 0; e < 10; e++) for (let k = 2; k <= 9; k++) minorY.push(k * Math.pow(10, e));
  g.selectAll('.my').data(minorY.filter(v => v <= p.yMax)).enter().append('line')
    .attr('x1', x0).attr('x2', x0 + 2).attr('y1', d => y(d)).attr('y2', d => y(d))
    .attr('stroke', AXL).attr('stroke-width', 0.7);
  const ya = g.append('g').attr('transform', `translate(${x0},0)`)
    .call(d3.axisLeft(y).tickValues(p.yT).tickFormat(fmtE).tickSizeInner(3).tickSizeOuter(0).tickPadding(1.5));
  styleAxis(ya, AXL, 10.6);
  const xa = g.append('g').attr('transform', `translate(0,${y0})`)
    .call(d3.axisBottom(x).tickValues(p.xT).tickFormat(fmtE).tickSizeInner(3).tickSizeOuter(0).tickPadding(7.2));
  styleAxis(xa, AXL, 9.6);
  g.append('line')
    .attr('x1', x(Math.pow(10, p.trend[0][0]))).attr('y1', y(Math.pow(10, p.trend[0][1])))
    .attr('x2', x(Math.pow(10, p.trend[1][0]))).attr('y2', y(Math.pow(10, p.trend[1][1])))
    .attr('stroke', '#b0b0b0').attr('stroke-width', 0.9);
  g.selectAll('circle').data(p.pts).enter().append('circle')
    .attr('cx', d => x(Math.pow(10, d[0]))).attr('cy', d => y(Math.pow(10, d[1])))
    .attr('r', 1.2).attr('fill', PT);
  txt(g, p.lab[0], p.lab[1], panelLabels[i], 19.5, 'middle');
  txt(g, p.r2[0], p.r2[1], r2Labels[i], 10.5, 'middle');
  txt(g, p.xt[0], p.xt[1], logXTitles[i], 10.5, 'middle');
  txt(g, p.yt[0], p.yt[1], logYTitles[i], 10.5, 'middle', true);
});

const linCfg = [
  {col: dColumn, zero: dZeroRow, pts: dCloud.concat(dCloudMore), yDom: [-4, 16], yT: linYTicksD, xR: [453.5, 786], yR: [214, 14], xPad: 5, yPad: 12,
   lab: [784, 26], xt: [637, 226], yt: [445, 118]},
  {col: [], zero: eZeroRow, pts: ePoints, yDom: [-6, 10], yT: linYTicksEF, xR: [455, 786], yR: [493.3, 293.3], xPad: 11.2, yPad: 9.2,
   lab: [782, 308], xt: [649, 507], yt: [447, 398]},
  {col: [], zero: fZeroRow, pts: fPoints, yDom: [-6, 10], yT: linYTicksEF, xR: [460, 773], yR: [758.3, 557.3], xPad: 5.5, yPad: 10.6,
   lab: [777, 575], xt: [617, 770], yt: [449, 667]}
];

linCfg.forEach((p, i) => {
  const g = svg.append('g');
  const x = d3.scaleLinear().domain([-5, 20]).range(p.xR);
  const y = d3.scaleLinear().domain(p.yDom).range(p.yR);
  const xa = g.append('g').attr('transform', `translate(0,${y(0)})`)
    .call(d3.axisBottom(x).tickValues(linXTicks).tickFormat(d => d.toFixed(2)).tickSizeInner(4).tickSizeOuter(0).tickPadding(p.xPad));
  styleAxis(xa, AXD, 8.6);
  const ya = g.append('g').attr('transform', `translate(${x(0)},0)`)
    .call(d3.axisLeft(y).tickValues(p.yT).tickFormat(d => d.toFixed(2)).tickSizeInner(4).tickSizeOuter(0).tickPadding(p.yPad));
  styleAxis(ya, AXD, 8.6);
  const all = p.col.concat(p.zero.map(v => [v, 0]), p.pts);
  g.selectAll('circle').data(all).enter().append('circle')
    .attr('cx', d => x(d[0])).attr('cy', d => y(d[1]))
    .attr('r', 1.35).attr('fill', PT);
  txt(g, p.lab[0], p.lab[1], panelLabels[3 + i], 19.5, 'middle');
  log2Title(g, p.xt[0], p.xt[1], linXTitleEnds[i], 10.5, false);
  log2Title(g, p.yt[0], p.yt[1], linYTitleEnds[i], 10.5, true);
});
</script>
</body></html>
